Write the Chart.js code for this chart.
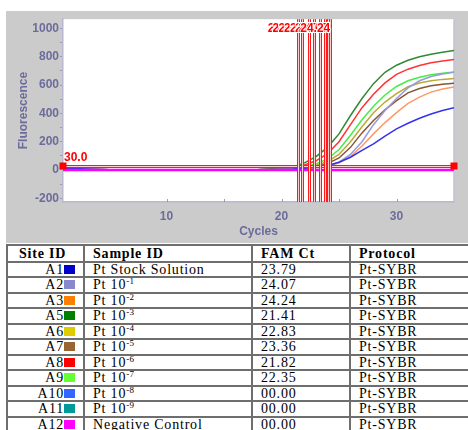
<!DOCTYPE html>
<html><head><meta charset="utf-8">
<script src="https://cdn.jsdelivr.net/npm/chart.js@4.4.0/dist/chart.umd.min.js"></script>
<style>
html,body{margin:0;padding:0;background:#fff;width:468px;height:430px;overflow:hidden;position:relative;}
#wrap{position:absolute;left:6px;top:11px;width:462px;height:232px;background:#cbcbcb;}
#c{display:block;}
#tbl{position:absolute;left:6px;top:244px;border-collapse:collapse;table-layout:fixed;width:466px;
 font-family:"Liberation Serif","Times New Roman",serif;font-size:14px;letter-spacing:0.8px;color:#000;}
#tbl td,#tbl th{border:2px solid #6e6e6e;padding:0 0 0 8px;line-height:13px;white-space:nowrap;overflow:hidden;text-align:left;vertical-align:middle;}
#tbl th{font-weight:bold;}
#tbl tr.hd{height:16.5px;}
#tbl tr.rw{height:15.5px;}
#tbl td.site{text-align:right;padding:0 8px 0 0;}
#tbl th.site{padding-left:11px;}
.sw{display:inline-block;width:11px;height:9px;vertical-align:0px;}
.sup{font-size:9px;vertical-align:5px;line-height:0;letter-spacing:0.3px;}
</style>
</head><body>
<div id="wrap"><canvas id="c" width="462" height="232"></canvas></div>
<table id="tbl">
<colgroup><col style="width:77px"><col style="width:168px"><col style="width:98px"><col style="width:123px"></colgroup>
<thead><tr class="hd"><th class="site">Site ID</th><th>Sample ID</th><th>FAM Ct</th><th>Protocol</th></tr></thead>
<tbody id="tb"></tbody>
</table>
<script>
// ---- data ----
const cycles = [1,2,3,4,5,6,7,8,9,10,11,12,13,14,15,16,17,18,19,20,21,22,23,24,25,26,27,28,29,30,31,32,33,34,35];
const threshold = 30;
const yTicks = [-200,-100,0,100,200,300,400,500,600,700,800,900,1000];
const xTicks = [10,15,20,25,30];
const xLabelTicks = [10,20,30];

const wellA1  = [12,10,7,4,1,1,1,1,1,1,1,1,1,1,1,1,1, 1,2,4,7,12,20,32,55,90,138,185,240,290,330,365,395,420,440];
const wellA2  = [12,10,7,4,1,1,1,1,1,1,1,1,1,1,1,1,1, 0,1,3,6,10,17,29,55,110,200,320,420,505,580,630,660,678,690];
const wellA3  = [12,10,7,4,1,1,1,1,1,1,1,1,1,1,1,1,1, 0,1,3,5,9,15,25,50,95,170,255,335,405,470,515,550,572,586];
const wellA5  = [12,10,7,4,1,1,1,1,1,1,1,1,1,1,1,1,1, 3,8,15,22,50,95,160,255,385,505,610,690,740,775,800,818,832,844];
const wellA6  = [12,10,7,4,1,1,1,1,1,1,1,1,1,1,1,1,1, 1,3,6,11,18,32,60,110,200,305,405,480,540,588,615,630,640,646];
const wellA7  = [12,10,7,4,1,1,1,1,1,1,1,1,1,1,1,1,1, 1,2,5,9,15,25,45,85,160,262,350,425,490,545,575,595,605,612];
const wellA8  = [12,10,7,4,1,1,1,1,1,1,1,1,1,1,1,1,1, 2,6,12,20,36,65,115,200,320,440,535,615,675,712,738,757,770,780];
const wellA9  = [12,10,7,4,1,1,1,1,1,1,1,1,1,1,1,1,1, 1,4,8,14,24,42,78,145,245,355,450,530,590,630,655,672,684,693];
const wellA10 = [1,1,1,1,1,1,1,1,1,1,1,1,1,1,1,1,1,1,1,1,1,1,1,1,1,1,1,1,1,1,1,1,1,1,1];
const wellA11 = [1,1,1,1,1,1,1,1,1,1,1,1,1,1,1,1,1,1,1,1,1,1,1,1,1,1,1,1,1,1,1,1,1,1,1];
const wellA12 = [0,0,0,0,0,0,0,0,0,0,0,0,0,0,0,0,0,0,0,0,0,0,0,0,0,0,0,0,0,0,0,0,0,0,0];

const siteIds = ['A1','A2','A3','A5','A6','A7','A8','A9','A10','A11','A12'];
const sampleNames = ['Pt Stock Solution','Pt 10','Pt 10','Pt 10','Pt 10','Pt 10','Pt 10','Pt 10','Pt 10','Pt 10','Negative Control'];
const sampleExps = ['','-1','-2','-3','-4','-5','-6','-7','-8','-9',''];
const famCt = ['23.79','24.07','24.24','21.41','22.83','23.36','21.82','22.35','00.00','00.00','00.00'];
const protocols = ['Pt-SYBR','Pt-SYBR','Pt-SYBR','Pt-SYBR','Pt-SYBR','Pt-SYBR','Pt-SYBR','Pt-SYBR','Pt-SYBR','Pt-SYBR','Pt-SYBR'];
const swatchColors = ['#0000cc','#8888cc','#ff8000','#008000','#ddcc00','#996633','#ff0000','#66ff33','#3366ff','#009999','#ff00ff'];

// ---- table ----
const tb = document.getElementById('tb');
siteIds.forEach((s,i)=>{
  const tr = document.createElement('tr'); tr.className='rw';
  const exp = sampleExps[i] ? '<span class="sup">'+sampleExps[i]+'</span>' : '';
  tr.innerHTML = '<td class="site">'+s+'<span class="sw" style="background:'+swatchColors[i]+'"></span></td>'+
    '<td>'+sampleNames[i]+exp+'</td><td>'+famCt[i]+'</td><td>'+protocols[i]+'</td>';
  tb.appendChild(tr);
});

// ---- chart ----
const AX = '#6c6c9c';
const FONT = '"Liberation Sans", Arial, sans-serif';
function pts(arr){ return arr.map((v,i)=>({x:cycles[i], y:v})); }
function ds(arr,color,w){ return {data:pts(arr), borderColor:color, borderWidth:w||1.5, pointRadius:0, fill:false, tension:0}; }

const ctValues = famCt.map(Number).filter(v=>v>0).sort((a,b)=>a-b);

const bgPlugin = {
  id:'bg',
  beforeDraw(chart){
    const {ctx, chartArea:a} = chart;
    ctx.save();
    ctx.fillStyle='#cbcbcb'; ctx.fillRect(0,0,chart.width,chart.height);
    ctx.fillStyle='#ffffff'; ctx.fillRect(a.left,a.top,a.right-a.left,a.bottom-a.top);
    ctx.strokeStyle='#c0c0d4'; ctx.lineWidth=1.5;
    ctx.beginPath(); ctx.moveTo(a.right,a.top); ctx.lineTo(a.right,a.bottom); ctx.stroke();
    ctx.restore();
  },
  afterDatasetsDraw(chart){
    const {ctx, chartArea:a, scales:{x,y}} = chart;
    ctx.save();
    ctx.strokeStyle='#9a9ab8'; ctx.lineWidth=1;
    xTicks.forEach(t=>{ const px=Math.round(x.getPixelForValue(t))+0.5; ctx.beginPath(); ctx.moveTo(px,a.bottom); ctx.lineTo(px,a.bottom-3); ctx.stroke(); });
    function dbl(x1,y1,x2,y2){
      ctx.strokeStyle='#ff1a1a'; ctx.lineWidth=3; ctx.beginPath(); ctx.moveTo(x1,y1); ctx.lineTo(x2,y2); ctx.stroke();
      ctx.strokeStyle='#ffcfcf'; ctx.lineWidth=1; ctx.beginPath(); ctx.moveTo(x1,y1); ctx.lineTo(x2,y2); ctx.stroke();
    }
    const ty = Math.round(y.getPixelForValue(threshold))+0.5;
    const x0 = x.getPixelForValue(cycles[0]), x1 = x.getPixelForValue(cycles[cycles.length-1]);
    dbl(x0,ty,x1,ty);
    ctValues.forEach(v=>{ const px=Math.round(x.getPixelForValue(v))+0.5; dbl(px,a.top,px,a.bottom); });
    ctx.font='bold 12px '+FONT; ctx.textAlign='right'; ctx.textBaseline='middle';
    ctValues.forEach(v=>{ const px=x.getPixelForValue(v);
      ctx.lineWidth=2; ctx.strokeStyle='#ffffff'; ctx.strokeText(v.toFixed(2),px,a.top+9);
      ctx.fillStyle='#ff0000'; ctx.fillText(v.toFixed(2),px,a.top+9); });
    ctx.fillStyle='#ff0000';
    ctx.fillRect(x0-3.5,ty-4,7,7); ctx.fillRect(x1-3.5,ty-4,7,7);
    ctx.textAlign='left'; ctx.fillText(threshold.toFixed(1), x0+1, ty-9);
    ctx.restore();
  }
};

new Chart(document.getElementById('c'), {
  type:'line',
  data:{ datasets:[
    ds(wellA12,'#ff00ff',2.5),
    ds(wellA1,'#3333ee'),
    ds(wellA2,'#9999dd'),
    ds(wellA3,'#ff9966'),
    ds(wellA5,'#338833'),
    ds(wellA6,'#bbaa33'),
    ds(wellA7,'#885533'),
    ds(wellA8,'#ff3333'),
    ds(wellA9,'#44ee44'),
    ds(wellA10,'#3366ff'),
    ds(wellA11,'#009999')
  ]},
  options:{
    responsive:false, animation:false, devicePixelRatio:1,
    layout:{padding:{top:7,right:14,left:0,bottom:0}},
    plugins:{legend:{display:false}, tooltip:{enabled:false}},
    scales:{
      x:{type:'linear', min:cycles[0], max:cycles[cycles.length-1],
        afterBuildTicks:s=>{ s.ticks = xTicks.map(v=>({value:v})); },
        afterFit:s=>{ s.height = 41; },
        ticks:{callback:v=> xLabelTicks.includes(v) ? String(v) : '', color:AX, font:{family:FONT,size:12,weight:'bold'}, padding:7, maxRotation:0, autoSkip:false},
        grid:{drawOnChartArea:false, drawTicks:false},
        border:{display:true, color:'#b8b8d0', width:1.5},
        title:{display:true, text:'Cycles', color:AX, font:{family:FONT,size:12,weight:'bold'}, padding:{top:0,bottom:4}}
      },
      y:{type:'linear', min:-226, max:1065,
        afterBuildTicks:s=>{ s.ticks = yTicks.map(v=>({value:v})); },
        afterFit:s=>{ s.width = 57; },
        ticks:{callback:v=> (v % 200 === 0) ? String(v) : '', color:AX, font:{family:FONT,size:12,weight:'bold'}, padding:1, autoSkip:false},
        grid:{drawOnChartArea:false, drawTicks:true, tickLength:3, color:'#9a9ab8'},
        border:{display:true, color:'#b8b8d0', width:1.5},
        title:{display:true, text:'Fluorescence', color:AX, font:{family:FONT,size:12,weight:'bold'}, padding:{top:10,bottom:0}}
      }
    }
  },
  plugins:[bgPlugin]
});
</script>
</body></html>
